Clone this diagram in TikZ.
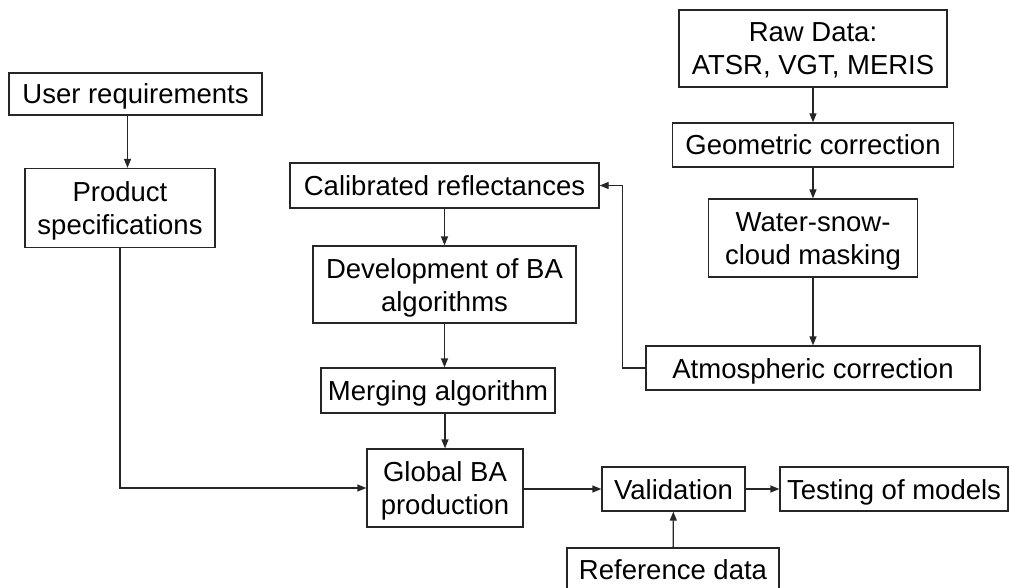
\documentclass[tikz,border=0pt]{standalone}
\usepackage{fontspec}
\setmainfont{Liberation Sans}
\usetikzlibrary{arrows.meta}

\begin{document}
\begin{tikzpicture}[x=1pt,y=-1pt,
  box/.style={draw=black!85,line width=1.3pt,inner sep=0pt,align=center,
    font=\fontsize{27.5}{33}\selectfont,text height=20pt,text depth=0pt},
  twoline/.style={text height=53pt},
  link/.style={draw=black!85,line width=1.3pt,->,>={Triangle[length=9pt,width=7pt]}}]
 \useasboundingbox (0,0) rectangle (1009,588); %frame
 % right column
 \node[box,twoline,minimum width=268pt,minimum height=77pt] (raw) at (813,48.5) {Raw Data:\\ATSR, VGT, MERIS};
 \node[box,minimum width=281pt,minimum height=44pt] (geo) at (813,145) {Geometric correction};
 \node[box,twoline,minimum width=209pt,minimum height=78pt] (mask) at (813,238) {Water-snow-\\cloud masking};
 \node[box,minimum width=334pt,minimum height=44pt] (atmo) at (813,368) {Atmospheric correction};
 % left column
 \node[box,minimum width=253pt,minimum height=42pt] (user) at (135.5,94) {User requirements};
 \node[box,twoline,minimum width=190pt,minimum height=79pt] (spec) at (120,208) {Product\\specifications};
 % middle column
 \node[box,minimum width=309pt,minimum height=45pt] (calib) at (444.5,185.5) {Calibrated reflectances};
 \node[box,twoline,minimum width=263pt,minimum height=77pt] (algo) at (444.5,284.5) {Development of BA\\algorithms};
 \node[box,minimum width=234pt,minimum height=45pt] (merge) at (438,390.5) {Merging algorithm};
 \node[box,twoline,minimum width=156pt,minimum height=78pt] (prod) at (445,488) {Global BA\\production};
 % bottom row
 \node[box,minimum width=143pt,minimum height=44pt] (valid) at (673.5,489) {Validation};
 \node[box,minimum width=228pt,minimum height=44pt] (test) at (894,489) {Testing of models};
 \node[box,minimum width=212pt,minimum height=42pt] (ref) at (673,569) {Reference data};
 % arrows
 \draw[link] (raw) -- (geo);
 \draw[link] (geo) -- (mask);
 \draw[link] (mask) -- (atmo);
 \draw[link] (atmo.west) -- ++(-23,0) |- (calib.east);
 \draw[link] ([xshift=-8pt]user.south) -- ([xshift=-8pt]user.south |- spec.north);
 \draw[link] (calib) -- (algo);
 \draw[link] (algo.south) -- (algo.south |- merge.north);
 \draw[link] (merge.south -| prod.north) -- (prod.north);
 \draw[link] (spec.south) |- (prod.west);
 \draw[link] (prod.east |- valid.west) -- (valid.west);
 \draw[link] (valid) -- (test);
 \draw[link] (ref) -- (valid);
\end{tikzpicture}
\end{document}
